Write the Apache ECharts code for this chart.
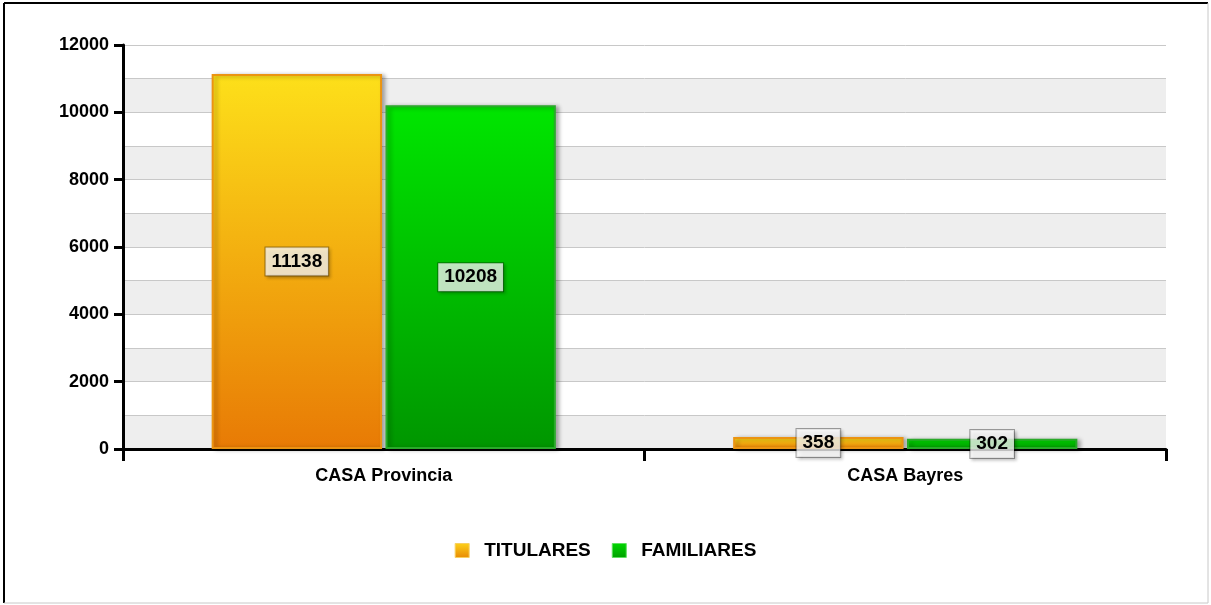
<!DOCTYPE html>
<html>
<head>
<meta charset="utf-8">
<script src="https://cdn.jsdelivr.net/npm/echarts@6/dist/echarts.min.js"></script>
<style>
  html, body { margin: 0; padding: 0; background: #fff; }
  #chart { width: 1211px; height: 605px; }
</style>
</head>
<body>
<div id="chart"></div>
<script>
const categories = ['CASA Provincia', 'CASA Bayres'];
const titulares = [11138, 358];
const familiares = [10208, 302];
const seriesNames = ['TITULARES', 'FAMILIARES'];

const font = '"Liberation Sans", Arial, sans-serif';

function grad(top, bottom) {
  return new echarts.graphic.LinearGradient(0, 0, 0, 1, [
    { offset: 0, color: top },
    { offset: 1, color: bottom }
  ]);
}

const labelStyle = {
  show: true,
  position: 'inside',
  color: '#000',
  fontFamily: font,
  fontWeight: 'bold',
  fontSize: 19,
  backgroundColor: 'rgba(255,255,255,0.75)',
  borderColor: 'rgba(0,0,0,0.35)',
  borderWidth: 1,
  padding: [5, 6, 4, 6],
  shadowColor: 'rgba(0,0,0,0.35)',
  shadowBlur: 3,
  shadowOffsetX: 2,
  shadowOffsetY: 2
};

const chart = echarts.init(document.getElementById('chart'));

const option = {
  animation: false,
  grid: { left: 123, right: 45, top: 45, bottom: 156 },
  legend: {
    bottom: 40,
    left: 'center',
    itemWidth: 14,
    itemHeight: 14,
    itemGap: 21,
    textStyle: { fontFamily: font, fontWeight: 'bold', fontSize: 19, color: '#000', padding: [0, 0, 0, 10] },
    data: [
      { name: seriesNames[0], icon: 'rect', itemStyle: { color: grad('#fdd21a', '#e88a05'), borderColor: '#f8d060', borderWidth: 1 } },
      { name: seriesNames[1], icon: 'rect', itemStyle: { color: grad('#00d800', '#00a000'), borderColor: '#60e060', borderWidth: 1 } }
    ]
  },
  xAxis: {
    type: 'category',
    data: categories,
    boundaryGap: true,
    axisLine: { lineStyle: { color: '#000', width: 3 } },
    axisTick: { show: true, interval: 0, length: 12, lineStyle: { color: '#000', width: 3 } },
    axisLabel: { fontFamily: font, fontWeight: 'bold', fontSize: 18, color: '#000', margin: 18 }
  },
  yAxis: [
    {
      type: 'value',
      min: 0,
      max: 12000,
      interval: 2000,
      axisLine: { show: true, lineStyle: { color: '#000', width: 3 } },
      axisTick: { show: true, length: 9, lineStyle: { color: '#000', width: 3 } },
      axisLabel: { fontFamily: font, fontWeight: 'bold', fontSize: 18, color: '#000', margin: 14, formatter: v => String(v) },
      splitLine: { show: false }
    },
    {
      type: 'value',
      min: 0,
      max: 12000,
      interval: 1000,
      position: 'left',
      axisLine: { show: false },
      axisTick: { show: false },
      axisLabel: { show: false },
      splitLine: { show: true, lineStyle: { color: '#c8c8c8', width: 1 } },
      splitArea: { show: true, areaStyle: { color: ['#eeeeee', '#ffffff'] } }
    }
  ],
  series: [
    {
      name: seriesNames[0],
      type: 'bar',
      data: titulares,
      barGap: '2%',
      barCategoryGap: '34%',
      z: 3,
      itemStyle: {
        color: grad('#fde01a', '#e87a05'),
        borderColor: '#eb9412',
        borderWidth: 2,
        shadowColor: 'rgba(0,0,0,0.3)',
        shadowBlur: 4,
        shadowOffsetX: 3,
        shadowOffsetY: 1
      },
      label: labelStyle
    },
    {
      name: seriesNames[1],
      type: 'bar',
      data: familiares,
      z: 3,
      itemStyle: {
        color: grad('#00e600', '#009600'),
        borderColor: '#2aaa2a',
        borderWidth: 2,
        shadowColor: 'rgba(0,0,0,0.3)',
        shadowBlur: 4,
        shadowOffsetX: 3,
        shadowOffsetY: 1
      },
      label: labelStyle
    }
  ],
  graphic: [
    { type: 'line', shape: { x1: 4, y1: 3, x2: 1208, y2: 3 }, style: { stroke: '#000', lineWidth: 2 } },
    { type: 'line', shape: { x1: 4, y1: 3, x2: 4, y2: 603 }, style: { stroke: '#000', lineWidth: 2 } },
    { type: 'line', shape: { x1: 4, y1: 603, x2: 1208, y2: 603 }, style: { stroke: '#c8c8c8', lineWidth: 1 } },
    { type: 'line', shape: { x1: 1208, y1: 3, x2: 1208, y2: 603 }, style: { stroke: '#c8c8c8', lineWidth: 1 } }
  ]
};

chart.setOption(option);
</script>
</body>
</html>
